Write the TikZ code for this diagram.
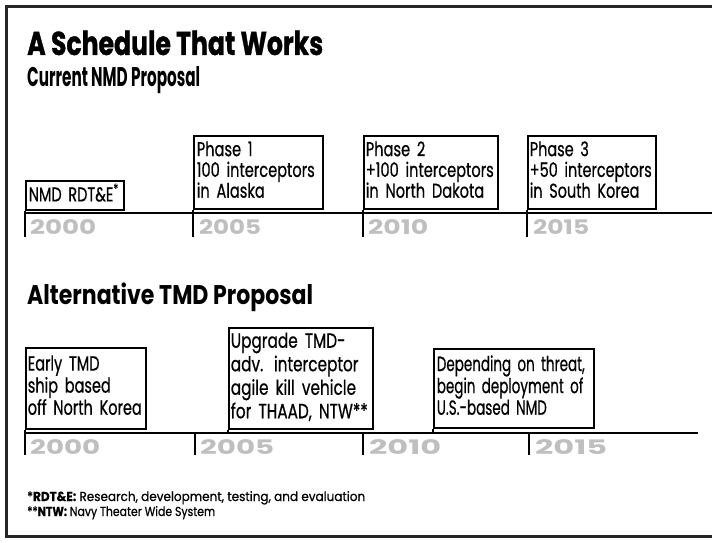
\documentclass[tikz,border=0pt]{standalone}
\usepackage{fontspec}
\setmainfont{Poppins}
\newfontfamily\cond{Poppins}[FakeStretch=0.72,FakeBold=0.6]
\newfontfamily\heavy{Poppins}[FakeBold=1.2]
\newcommand\evt[2]{\resizebox{#1}{\height}{\begin{tabular}{@{}l@{}}#2\end{tabular}}}
\newcommand\fitw[2]{\resizebox{#1}{\height}{#2}}
\begin{document}
\begin{tikzpicture}[x=1pt,y=-1pt,
  frame/.style={line width=3pt, black!85},
  tl/.style={line width=2pt},
  tk/.style={line width=2.5pt},
  ev/.style={draw, line width=1.6pt, anchor=north west, inner sep=0pt, align=left},
  evtop/.style={ev, font=\cond\fontsize{20}{18.5}\selectfont},
  evbot/.style={ev, font=\cond\fontsize{20.5}{21.5}\selectfont},
  yr/.style={anchor=north west, inner sep=0pt, text=black!25, font=\bfseries\fontsize{20}{20}\selectfont},
  hd/.style={anchor=base west, inner sep=0pt},
  fn/.style={anchor=base west, inner sep=0pt, font=\cond\fontsize{13}{13}\selectfont}]
\useasboundingbox (0,0) rectangle (712,543);
% frame
\draw[frame] (712,6.5) -- (6.5,6.5) -- (6.5,536) -- (712,536);
% headings
\node[hd, font=\heavy\bfseries\fontsize{33}{33}\selectfont] (title) at (27,55) {\fitw{296pt}{A Schedule That Works}};
\node[hd, font=\bfseries\fontsize{27}{27}\selectfont] (cur) at (27,87) {\fitw{173pt}{Current NMD Proposal}};
\node[hd, font=\bfseries\fontsize{27}{27}\selectfont] (alt) at (27,304) {\fitw{286pt}{Alternative TMD Proposal}};
% top timeline
\coordinate (a1) at (25,213);
\coordinate (a2) at (712,213);
\draw[tl] (a1) -- (a2);
\node[evtop, minimum width=98pt, minimum height=29pt, text width=92pt] (nmd) at (25,180) {\evt{90pt}{NMD RDT\&E\textsuperscript{*}}};
\node[evtop, minimum width=129pt, minimum height=73pt, text width=123pt] (p1) at (193,135) {\evt{118pt}{Phase 1\\100 interceptors\\in Alaska}};
\node[evtop, minimum width=134pt, minimum height=73pt, text width=130pt] (p2) at (363,135) {\evt{128pt}{Phase 2\\+100 interceptors\\in North Dakota}};
\node[evtop, minimum width=128pt, minimum height=73pt, text width=124pt] (p3) at (527,135) {\evt{122pt}{Phase 3\\+50 interceptors\\in South Korea}};
\coordinate (t1) at (25,237);
\coordinate (t2) at (193,237);
\coordinate (t3) at (363,237);
\coordinate (t4) at (527,237);
\draw[tk] (nmd.south west) -- (t1);
\draw[tk] (p1.south west) -- (t2);
\draw[tk] (p2.south west) -- (t3);
\draw[tk] (p3.south west) -- (t4);
\node[yr] (y1) at (30,219) {\fitw{66pt}{2000}};
\node[yr] (y2) at (199,219) {\fitw{62pt}{2005}};
\node[yr] (y3) at (368,219) {\fitw{60pt}{2010}};
\node[yr] (y4) at (533,219) {\fitw{56pt}{2015}};
% bottom timeline
\coordinate (b1) at (25,433);
\coordinate (b2) at (698,433);
\draw[tl] (b1) -- (b2);
\node[evbot, minimum width=120pt, minimum height=81pt, text width=116pt] (early) at (25,347) {\evt{114pt}{Early TMD\\ship based\\off North Korea}};
\node[evbot, minimum width=144pt, minimum height=101pt, text width=140pt, font=\cond\fontsize{20.5}{23.5}\selectfont] (upg) at (228,327) {\evt{137pt}{Upgrade TMD-\\adv. interceptor\\agile kill vehicle\\for THAAD, NTW**}};
\node[evbot, minimum width=160pt, minimum height=79pt, text width=154pt] (dep) at (433,348) {\evt{148pt}{Depending on threat,\\begin deployment of\\U.S.-based NMD}};
\coordinate (u1) at (25,455);
\coordinate (u2t) at (195,433);
\coordinate (u2) at (195,455);
\coordinate (u3t) at (363,433);
\coordinate (u3) at (363,455);
\coordinate (u4t) at (529,433);
\coordinate (u4) at (529,455);
\draw[tk] (early.south west) -- (u1);
\draw[tk] (u2t) -- (u2);
\draw[tk] (u3t) -- (u3);
\draw[tk] (u4t) -- (u4);
\draw[tk] (upg.south west) -- (upg.south west |- b1);
\draw[tk] (dep.south west) -- (dep.south west |- b1);
\node[yr] (z1) at (30,439) {\fitw{70pt}{2000}};
\node[yr] (z2) at (200,439) {\fitw{74pt}{2005}};
\node[yr] (z3) at (369,439) {\fitw{72pt}{2010}};
\node[yr] (z4) at (535,439) {\fitw{72pt}{2015}};
% footnotes
\node[fn] (f1) at (27,501) {\fitw{338pt}{*\textbf{RDT\&E:} Research, development, testing, and evaluation}};
\node[fn] (f2) at (27,516) {\fitw{188pt}{**\textbf{NTW:} Navy Theater Wide System}};
\end{tikzpicture}
\end{document}
